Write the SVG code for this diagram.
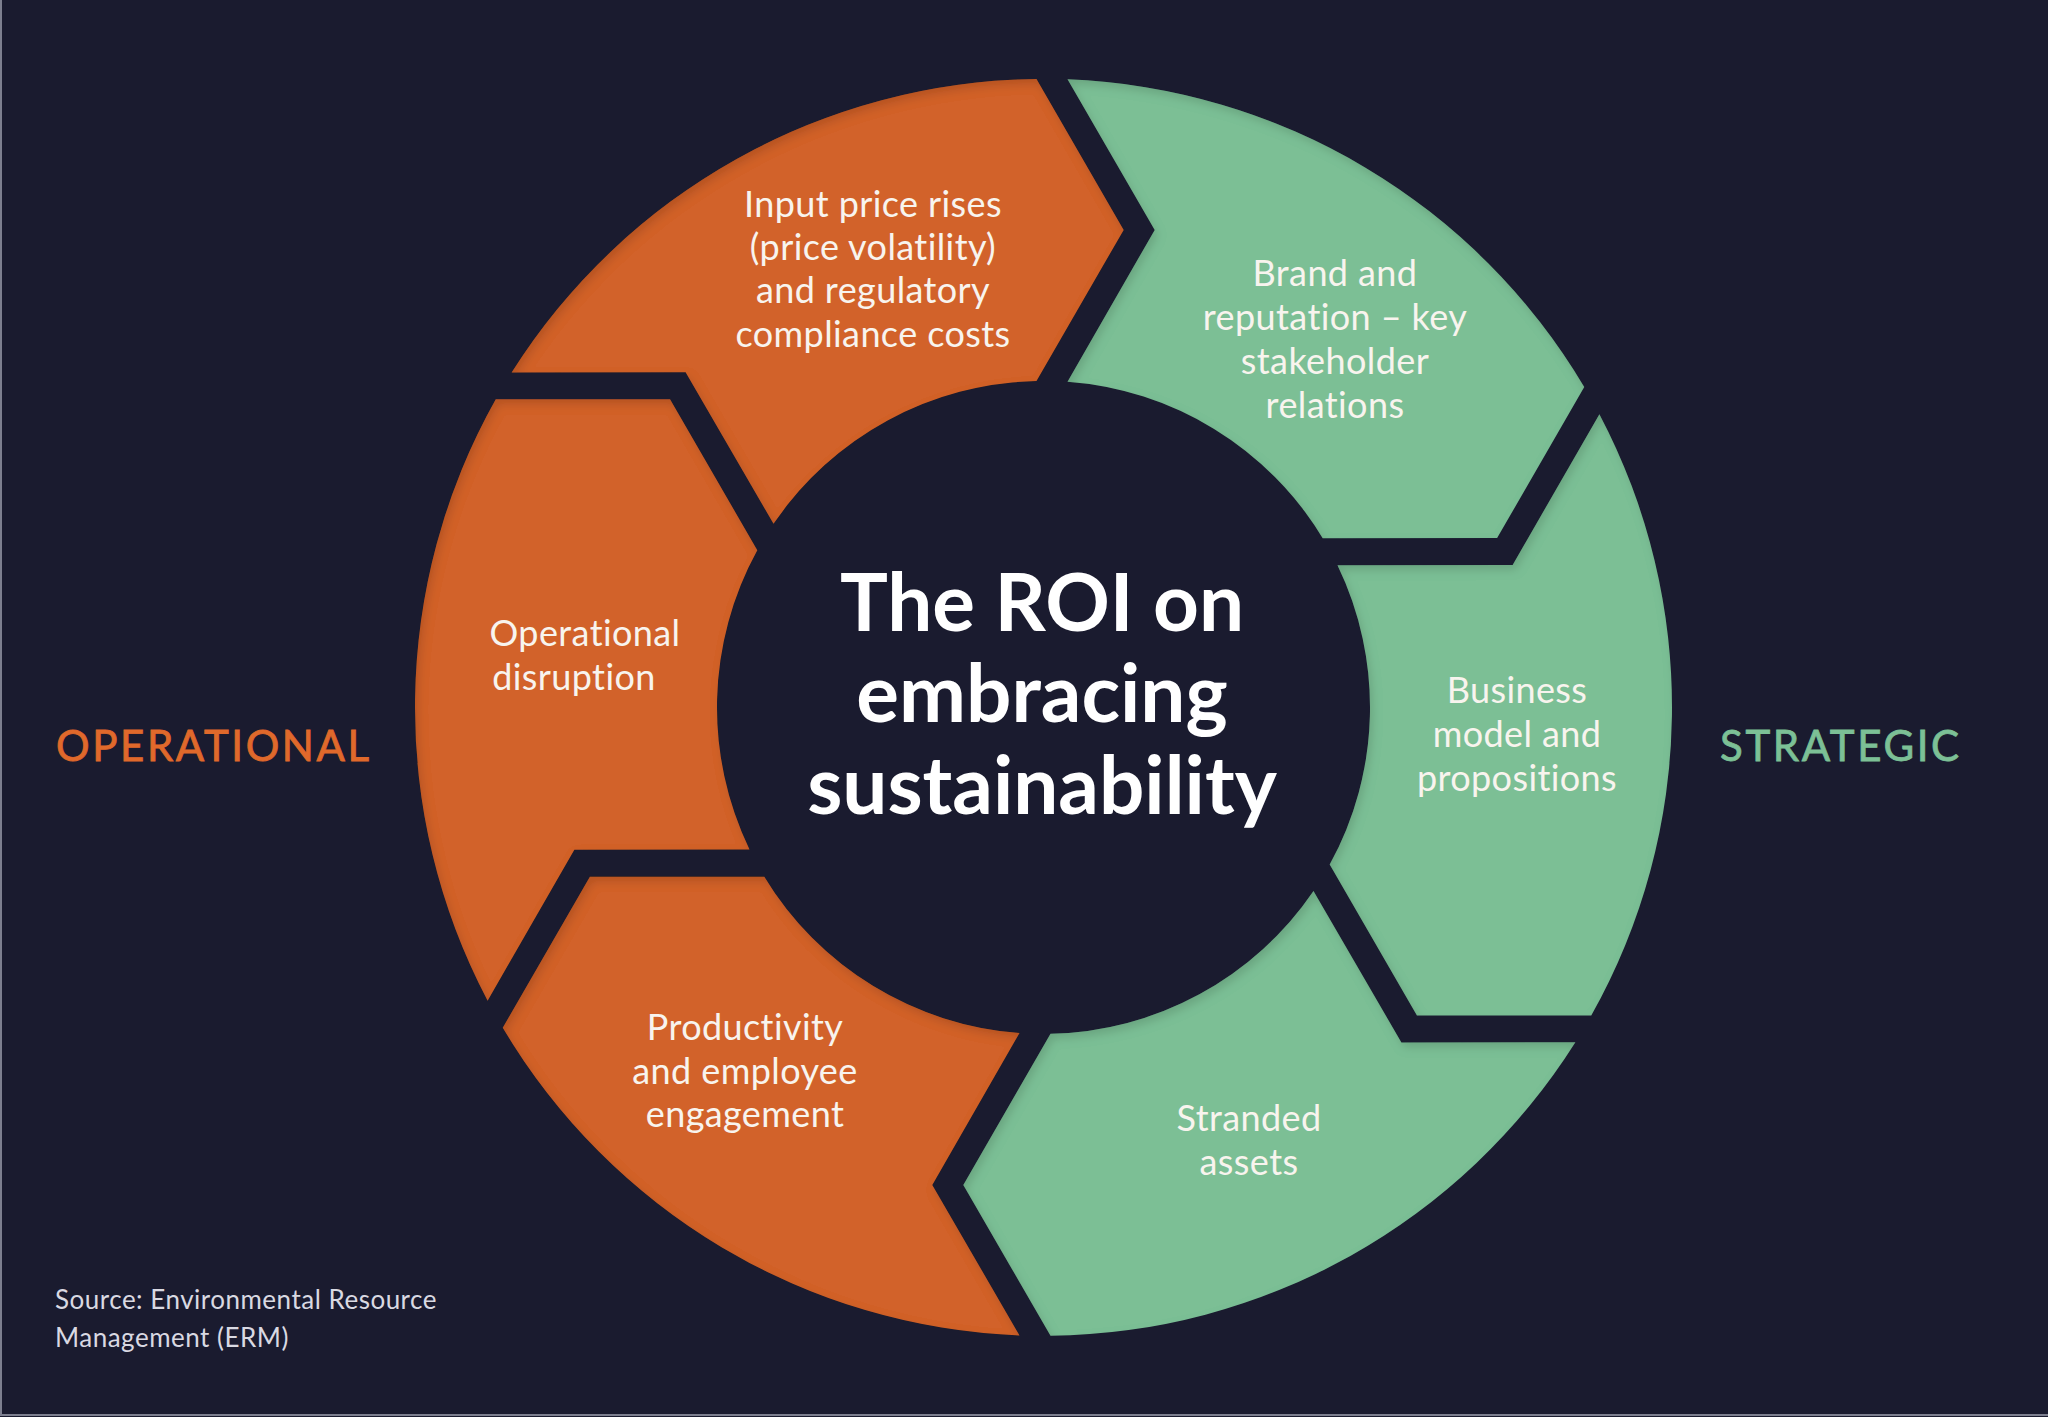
<svg xmlns="http://www.w3.org/2000/svg" xmlns:xlink="http://www.w3.org/1999/xlink" width="2048" height="1417" viewBox="0 0 2048 1417">
<defs>
<style>
.bg{fill:#1a1b2f}
.seg-o{fill:#d2622b}
.seg-g{fill:#7bbf95}
.lbl{font-family:Lato,"Noto Sans","DejaVu Sans",sans-serif;font-size:36px;fill:#f8f4ee;text-anchor:middle;letter-spacing:0.4px}
.title{font-family:Lato,"Noto Sans","DejaVu Sans",sans-serif;font-weight:700;font-size:80px;fill:#ffffff;text-anchor:middle}
.side{font-family:Lato,"Noto Sans","DejaVu Sans",sans-serif;font-size:42px;letter-spacing:2.6px;stroke-width:0.8px}
.src{font-family:Lato,"Noto Sans","DejaVu Sans",sans-serif;font-size:26px;fill:#d9d9e2;letter-spacing:0.5px}
</style>
<path id="seg" d="M1067.5,79.36 A628.5,628.5 0 0 1 1584.26,387.11 L1497.13,538.1 L1322.69,538.13 A326.5,326.5 0 0 0 1067.5,381.78 L1154.7,229.9 Z"/>
<filter id="inset" x="-5%" y="-5%" width="110%" height="110%">
<feComponentTransfer in="SourceAlpha" result="inv"><feFuncA type="table" tableValues="1 0"/></feComponentTransfer>
<feOffset in="inv" dx="3" dy="5" result="off"/>
<feGaussianBlur in="off" stdDeviation="5" result="blur"/>
<feFlood flood-color="#000000" flood-opacity="0.28"/>
<feComposite in2="blur" operator="in" result="shadow"/>
<feComposite in="shadow" in2="SourceAlpha" operator="in" result="ishadow"/>
<feMerge><feMergeNode in="SourceGraphic"/><feMergeNode in="ishadow"/></feMerge>
</filter>
</defs>
<rect class="bg" x="0" y="0" width="2048" height="1417"/>
<polyline points="1,0 1,1415 2048,1415" fill="none" stroke="#7d7f8f" stroke-width="2"/>

<g id="connectors"></g>

<g id="node-input-price">
<g filter="url(#inset)"><use xlink:href="#seg" href="#seg" class="seg-o" transform="rotate(300 1043.5 707.4)"/></g>
<text class="lbl" x="873" y="217">Input price rises</text>
<text class="lbl" x="873" y="260">(price volatility)</text>
<text class="lbl" x="873" y="303">and regulatory</text>
<text class="lbl" x="873" y="347">compliance costs</text>
</g>

<g id="node-brand">
<g filter="url(#inset)"><use xlink:href="#seg" href="#seg" class="seg-g"/></g>
<text class="lbl" x="1335" y="286">Brand and</text>
<text class="lbl" x="1335" y="330">reputation – key</text>
<text class="lbl" x="1335" y="374">stakeholder</text>
<text class="lbl" x="1335" y="418">relations</text>
</g>

<g id="node-business">
<g filter="url(#inset)"><use xlink:href="#seg" href="#seg" class="seg-g" transform="rotate(60 1043.5 707.4)"/></g>
<text class="lbl" x="1517" y="703">Business</text>
<text class="lbl" x="1517" y="747">model and</text>
<text class="lbl" x="1517" y="791">propositions</text>
</g>

<g id="node-stranded">
<g filter="url(#inset)"><use xlink:href="#seg" href="#seg" class="seg-g" transform="rotate(120 1043.5 707.4)"/></g>
<text class="lbl" x="1249" y="1131">Stranded</text>
<text class="lbl" x="1249" y="1175">assets</text>
</g>

<g id="node-productivity">
<g filter="url(#inset)"><use xlink:href="#seg" href="#seg" class="seg-o" transform="rotate(180 1043.5 707.4)"/></g>
<text class="lbl" x="745" y="1040">Productivity</text>
<text class="lbl" x="745" y="1084">and employee</text>
<text class="lbl" x="745" y="1127">engagement</text>
</g>

<g id="node-operational-disruption">
<g filter="url(#inset)"><use xlink:href="#seg" href="#seg" class="seg-o" transform="rotate(240 1043.5 707.4)"/></g>
<text class="lbl" x="585" y="646">Operational</text>
<text class="lbl" x="574" y="690">disruption</text>
</g>

<g id="node-center">
<text class="title" x="1042" y="631">The ROI on</text>
<text class="title" x="1042" y="722">embracing</text>
<text class="title" x="1042" y="814">sustainability</text>
</g>

<g id="label-operational">
<text class="side" x="56" y="761" fill="#e0692b" stroke="#e0692b">OPERATIONAL</text>
</g>
<g id="label-strategic">
<text class="side" x="1720" y="761" fill="#7cc096" stroke="#7cc096">STRATEGIC</text>
</g>

<g id="source">
<text class="src" x="55" y="1309">Source: Environmental Resource</text>
<text class="src" x="55" y="1347">Management (ERM)</text>
</g>
</svg>
